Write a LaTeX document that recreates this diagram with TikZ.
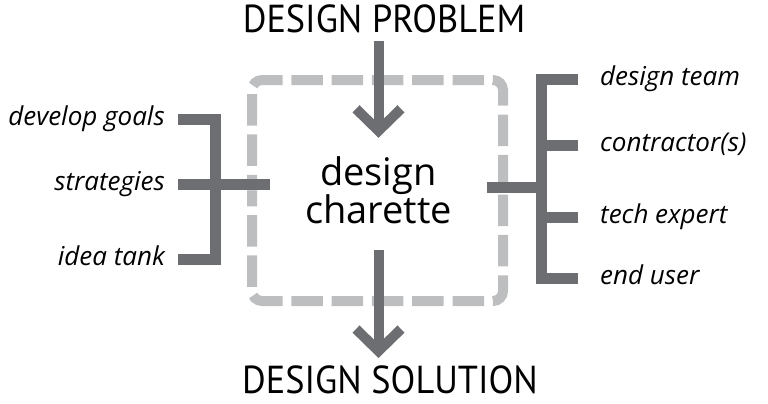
\documentclass[tikz,border=0pt]{standalone}
\usepackage{fontspec}
\setmainfont{Open Sans}
\newfontfamily\titlefont{PT Sans}
\newfontfamily\handfont{Open Sans}
\usetikzlibrary{arrows.meta}
\definecolor{bargray}{HTML}{6D6E71}
\definecolor{framegray}{HTML}{BCBEC0}
\newcommand{\titletext}[1]{\scalebox{0.93}[1]{#1}}
\begin{document}
\begin{tikzpicture}[x=1pt, y=-1pt, line join=miter,
	frame/.style={framegray, line width=10pt, rounded corners=10pt, dash pattern=on 31.5pt off 8.8pt, dash phase=15.75pt},
	bracket/.style={bargray, line width=11pt},
	flow/.style={bargray, line width=10pt, -{Straight Barb[sharp, length=22pt, width=45pt]}},
	title/.style={font=\titlefont\fontsize{39}{39}\selectfont, inner sep=0pt, anchor=base},
	hand/.style={font=\handfont\itshape\fontsize{26}{26}\selectfont, inner sep=0pt, text height=19pt, text depth=6pt}]
	\useasboundingbox (0,0) rectangle (768,404);
	
	\node[title] (problem) at (384,33) {\titletext{DESIGN PROBLEM}};
	\node[title] (solution) at (390,393) {\titletext{DESIGN SOLUTION}};
	\node[font=\fontsize{38}{38}\selectfont, align=center, inner sep=0pt, minimum width=217pt, minimum height=104pt] (charette) at (378.5,190) {design\\charette};
	
	\node[hand, anchor=east] (goals) at (165,119) {develop goals};
	\node[hand, anchor=east] (strat) at (165,184) {strategies};
	\node[hand, anchor=east] (tank) at (165,259) {idea tank};
	\node[hand, anchor=west] (team) at (600,79) {design team};
	\node[hand, anchor=west] (contr) at (600,145) {contractor(s)};
	\node[hand, anchor=west] (expert) at (600,217) {tech expert};
	\node[hand, anchor=west] (user) at (600,278) {end user};
	\coordinate (lspine) at (215,184);
	\coordinate (rspine) at (541,187);
	
	\draw[frame] (252,190.5) -- (252,80) -- (503,80) -- (503,190.5);
	\draw[frame] (252,190.5) -- (252,301) -- (503,301) -- (503,190.5);
	
	\draw[flow, shorten <=7pt] (charette.north |- problem.south) -- (charette.north);
	\draw[flow, shorten <=8pt, shorten >=7pt] (charette.south) -- (charette.south |- solution.north);
	
	\draw[bracket] ([xshift=13pt]goals.east) -| (lspine) |- ([xshift=13pt]tank.east);
	\draw[bracket] ([xshift=13pt]strat.east) -- (strat.east -| charette.west);
	\draw[bracket] ([xshift=-22pt]team.west) -| (rspine) |- ([xshift=-22pt]user.west);
	\draw[bracket] ([xshift=-22pt]contr.west) -- (contr.west -| rspine);
	\draw[bracket] ([xshift=-22pt]expert.west) -- (expert.west -| rspine);
	\draw[bracket] (charette.east |- rspine) -- (rspine);
\end{tikzpicture}
\end{document}
